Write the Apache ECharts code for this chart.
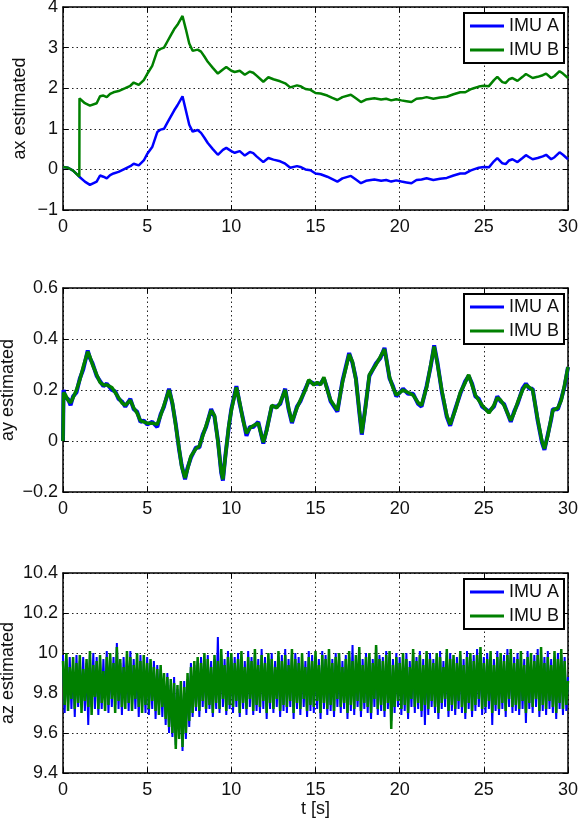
<!DOCTYPE html>
<html>
<head>
<meta charset="utf-8">
<title>IMU estimated acceleration</title>
<script src="https://cdn.jsdelivr.net/npm/echarts@6/dist/echarts.min.js"></script>
<style>
  html, body { margin: 0; padding: 0; background: #fff; }
  #chart { width: 580px; height: 821px; }
</style>
</head>
<body>
<div id="chart"></div>
<script>
// tick labels
const timeTicks = [0, 5, 10, 15, 20, 25, 30];
const axTicks = [-1, 0, 1, 2, 3, 4];
const ayTicks = [-0.2, 0, 0.2, 0.4, 0.6];
const azTicks = [9.4, 9.6, 9.8, 10, 10.2, 10.4];
const seriesNames = ["IMU A", "IMU B"];

// ax estimated
const axTime = [0, 0.3, 0.6, 0.97, 0.98, 1.3, 1.6, 2.0, 2.2, 2.4, 2.6, 2.8, 3.0, 3.3, 3.7, 4.0, 4.2, 4.5, 4.8, 5.0,
  5.3, 5.6, 5.8, 6.0, 6.2, 6.4, 6.6, 6.8, 7.1, 7.3, 7.5, 7.7, 8.0, 8.2, 8.4, 8.6, 8.9, 9.2, 9.5, 9.7,
  10.0, 10.2, 10.5, 10.8, 11.1, 11.3, 11.5, 11.9, 12.2, 12.5, 12.9, 13.2, 13.5, 13.9, 14.1, 14.4, 14.7, 15.0, 15.3, 15.7,
  16.0, 16.3, 16.6, 17.1, 17.4, 17.7, 18.0, 18.5, 18.9, 19.2, 19.5, 19.8, 20.1, 20.4, 20.7, 21.0, 21.3, 21.6, 22.0, 22.4,
  22.8, 23.2, 23.6, 23.9, 24.2, 24.4, 24.7, 25.0, 25.3, 25.6, 25.8, 26.1, 26.3, 26.5, 26.7, 27.0, 27.3, 27.5, 27.7, 27.9,
  28.2, 28.5, 28.7, 29.0, 29.2, 29.5, 29.7, 30.0];
const axImuA = [0.06, 0.04, -0.03, -0.18, -0.19, -0.3, -0.38, -0.3, -0.15, -0.18, -0.22, -0.14, -0.1, -0.06, 0.02, 0.08, 0.14, 0.1, 0.22, 0.38,
  0.55, 0.92, 0.98, 1.0, 1.15, 1.3, 1.45, 1.58, 1.8, 1.45, 1.1, 0.93, 0.97, 0.9, 0.78, 0.65, 0.5, 0.36, 0.48, 0.53,
  0.45, 0.41, 0.45, 0.34, 0.43, 0.4, 0.32, 0.18, 0.28, 0.24, 0.2, 0.14, 0.04, 0.08, 0.06, 0.0, -0.02, -0.1, -0.12, -0.18,
  -0.24, -0.3, -0.22, -0.16, -0.25, -0.34, -0.28, -0.25, -0.28, -0.26, -0.3, -0.27, -0.3, -0.32, -0.34, -0.26, -0.25, -0.22, -0.26, -0.23,
  -0.21, -0.15, -0.1, -0.1, -0.03, 0.0, 0.04, 0.06, 0.05, 0.2, 0.28, 0.15, 0.13, 0.22, 0.25, 0.18, 0.28, 0.35, 0.3, 0.25,
  0.28, 0.32, 0.36, 0.25, 0.3, 0.42, 0.36, 0.25];
const axImuB = [0.06, 0.04, -0.03, -0.18, 1.75, 1.63, 1.57, 1.63, 1.8, 1.82, 1.78, 1.86, 1.9, 1.93, 2.0, 2.06, 2.14, 2.08, 2.2, 2.35,
  2.55, 2.92, 2.97, 3.0, 3.15, 3.3, 3.45, 3.56, 3.78, 3.45, 3.1, 2.92, 2.95, 2.9, 2.78, 2.65, 2.5, 2.36, 2.46, 2.52,
  2.43, 2.4, 2.43, 2.33, 2.41, 2.38, 2.31, 2.16, 2.27, 2.22, 2.17, 2.12, 2.02, 2.07, 2.05, 1.98, 1.96, 1.88, 1.87, 1.82,
  1.76, 1.71, 1.78, 1.84, 1.75, 1.66, 1.72, 1.75, 1.72, 1.74, 1.7, 1.73, 1.7, 1.68, 1.66, 1.74, 1.75, 1.78, 1.74, 1.77,
  1.79, 1.85, 1.9, 1.9, 1.97, 2.0, 2.04, 2.06, 2.05, 2.2, 2.28, 2.15, 2.13, 2.22, 2.25, 2.18, 2.28, 2.35, 2.3, 2.25,
  2.28, 2.32, 2.36, 2.25, 2.3, 2.42, 2.36, 2.25];

// ay estimated
const ayTime = [0, 0.03, 0.15, 0.3, 0.45, 0.6, 0.8, 1.0, 1.2, 1.47, 1.6, 1.75, 2.0, 2.2, 2.4, 2.6, 2.9, 3.1, 3.3, 3.5,
  3.7, 4.0, 4.2, 4.4, 4.6, 4.8, 5.0, 5.3, 5.6, 5.8, 6.0, 6.3, 6.5, 6.7, 6.9, 7.05, 7.25, 7.4, 7.6, 7.9,
  8.1, 8.3, 8.5, 8.8, 9.0, 9.2, 9.4, 9.5, 9.65, 9.85, 10.0, 10.3, 10.5, 10.7, 10.9, 11.1, 11.3, 11.6, 11.9, 12.1,
  12.4, 12.7, 12.9, 13.2, 13.4, 13.6, 13.9, 14.1, 14.4, 14.6, 14.9, 15.1, 15.3, 15.5, 15.7, 15.9, 16.3, 16.6, 17.0, 17.2,
  17.4, 17.6, 17.75, 17.95, 18.2, 18.6, 18.85, 19.1, 19.4, 19.6, 19.8, 20.2, 20.5, 20.8, 21.1, 21.3, 21.6, 21.85, 22.05, 22.25,
  22.5, 22.8, 23.0, 23.3, 23.6, 23.9, 24.1, 24.3, 24.5, 24.7, 24.9, 25.3, 25.6, 25.8, 26.0, 26.2, 26.6, 26.8, 27.0, 27.3,
  27.5, 27.7, 27.9, 28.2, 28.45, 28.6, 28.8, 29.0, 29.1, 29.4, 29.6, 29.8, 30.0];
const ayImuA = [0.0, 0.2, 0.17, 0.165, 0.14, 0.175, 0.19, 0.245, 0.28, 0.355, 0.325, 0.305, 0.255, 0.235, 0.215, 0.225, 0.2, 0.195, 0.165, 0.155,
  0.135, 0.165, 0.125, 0.115, 0.075, 0.08, 0.065, 0.075, 0.055, 0.105, 0.135, 0.205, 0.145, 0.065, -0.035, -0.095, -0.15, -0.105, -0.065, -0.025,
  -0.025, 0.025, 0.055, 0.125, 0.095, 0.005, -0.125, -0.155, -0.055, 0.055, 0.125, 0.215, 0.145, 0.085, 0.02, 0.055, 0.055, 0.075, -0.01, 0.045,
  0.135, 0.135, 0.145, 0.205, 0.125, 0.07, 0.135, 0.155, 0.205, 0.235, 0.225, 0.225, 0.225, 0.245, 0.205, 0.155, 0.115, 0.235, 0.345, 0.305,
  0.245, 0.115, 0.025, 0.125, 0.255, 0.305, 0.325, 0.365, 0.245, 0.215, 0.175, 0.205, 0.185, 0.185, 0.145, 0.135, 0.215, 0.295, 0.375, 0.305,
  0.195, 0.095, 0.06, 0.125, 0.185, 0.235, 0.255, 0.225, 0.175, 0.165, 0.135, 0.115, 0.135, 0.175, 0.155, 0.145, 0.075, 0.115, 0.145, 0.205,
  0.225, 0.205, 0.205, 0.08, -0.005, -0.035, 0.025, 0.085, 0.125, 0.125, 0.165, 0.215, 0.29];
const ayImuB = [0.0, 0.19, 0.18, 0.16, 0.15, 0.17, 0.2, 0.24, 0.29, 0.35, 0.33, 0.3, 0.26, 0.23, 0.22, 0.22, 0.21, 0.19, 0.17, 0.15,
  0.14, 0.16, 0.13, 0.11, 0.08, 0.075, 0.07, 0.07, 0.065, 0.1, 0.14, 0.2, 0.15, 0.06, -0.03, -0.1, -0.145, -0.11, -0.06, -0.03,
  -0.02, 0.02, 0.06, 0.12, 0.1, 0.0, -0.12, -0.15, -0.06, 0.06, 0.12, 0.21, 0.15, 0.08, 0.03, 0.05, 0.06, 0.07, -0.005, 0.04,
  0.14, 0.13, 0.15, 0.2, 0.13, 0.075, 0.13, 0.16, 0.2, 0.24, 0.22, 0.23, 0.22, 0.25, 0.2, 0.16, 0.12, 0.23, 0.34, 0.31,
  0.24, 0.12, 0.03, 0.12, 0.26, 0.3, 0.33, 0.36, 0.25, 0.21, 0.18, 0.2, 0.19, 0.18, 0.15, 0.14, 0.21, 0.3, 0.37, 0.3,
  0.2, 0.1, 0.065, 0.12, 0.19, 0.23, 0.26, 0.22, 0.18, 0.16, 0.14, 0.11, 0.14, 0.17, 0.16, 0.14, 0.08, 0.11, 0.15, 0.2,
  0.22, 0.21, 0.2, 0.085, 0.0, -0.03, 0.02, 0.09, 0.12, 0.13, 0.16, 0.22, 0.29];

// az estimated, one sample every azStep seconds from t = 0 (one row = 1 s)
const azStep = 0.1;
const azImuA = [
  9.99, 9.70, 9.97, 9.74, 9.98, 9.72, 9.95, 9.68, 9.99, 9.73,
  9.96, 9.74, 9.98, 9.71, 9.95, 9.64, 9.99, 9.73, 10.00, 9.72,
  9.98, 9.69, 9.96, 9.72, 9.97, 9.74, 10.01, 9.70, 9.97, 9.73,
  9.98, 9.74, 10.05, 9.72, 9.95, 9.69, 9.98, 9.75, 9.97, 9.71,
  10.01, 9.74, 9.97, 9.72, 9.96, 9.68, 9.99, 9.73, 9.96, 9.70,
  9.98, 9.69, 9.95, 9.72, 9.96, 9.67, 9.94, 9.71, 9.92, 9.68,
  9.87, 9.64, 9.90, 9.60, 9.84, 9.58, 9.88, 9.54, 9.82, 9.59,
  9.84, 9.51, 9.86, 9.57, 9.87, 9.63, 9.95, 9.68, 9.94, 9.71,
  9.96, 9.68, 9.98, 9.73, 9.97, 9.70, 9.99, 9.72, 9.96, 9.68,
  9.97, 9.72, 10.08, 9.70, 9.99, 9.73, 9.97, 9.69, 10.01, 9.72,
  9.97, 9.70, 9.98, 9.73, 10.00, 9.68, 9.98, 9.72, 9.96, 9.69,
  10.01, 9.73, 9.98, 9.69, 9.99, 9.71, 9.97, 9.70, 10.02, 9.72,
  9.98, 9.67, 9.97, 9.72, 10.00, 9.70, 9.96, 9.73, 9.98, 9.68,
  9.99, 9.71, 10.02, 9.70, 9.97, 9.73, 9.99, 9.67, 10.00, 9.72,
  9.98, 9.69, 9.97, 9.73, 9.96, 9.68, 10.01, 9.71, 9.99, 9.70,
  9.98, 9.72, 9.97, 9.67, 10.01, 9.72, 9.99, 9.69, 9.98, 9.71,
  9.97, 9.68, 10.00, 9.73, 9.98, 9.70, 9.96, 9.72, 9.99, 9.67,
  9.98, 9.71, 10.04, 9.69, 9.97, 9.73, 10.00, 9.68, 9.97, 9.72,
  10.00, 9.70, 9.98, 9.67, 9.97, 9.73, 10.03, 9.69, 9.99, 9.71,
  9.98, 9.68, 10.01, 9.72, 9.98, 9.66, 9.97, 9.70, 10.00, 9.73,
  9.98, 9.69, 9.97, 9.71, 10.00, 9.67, 9.96, 9.73, 9.99, 9.70,
  9.98, 9.72, 10.01, 9.68, 9.97, 9.64, 9.99, 9.69, 10.00, 9.73,
  9.97, 9.70, 9.98, 9.67, 10.01, 9.72, 9.96, 9.73, 9.99, 9.68,
  10.00, 9.71, 9.97, 9.69, 9.98, 9.72, 9.99, 9.70, 9.97, 9.67,
  10.01, 9.72, 9.97, 9.68, 9.99, 9.71, 10.02, 9.73, 9.99, 9.69,
  9.98, 9.70, 10.00, 9.72, 9.98, 9.64, 9.97, 9.71, 10.01, 9.69,
  9.97, 9.72, 9.99, 9.68, 10.02, 9.73, 9.99, 9.70, 9.98, 9.71,
  10.00, 9.69, 9.98, 9.72, 9.97, 9.65, 10.01, 9.72, 9.97, 9.70,
  9.99, 9.73, 10.02, 9.68, 9.99, 9.71, 9.98, 9.69, 10.01, 9.72,
  9.97, 9.70, 9.98, 9.67, 10.00, 9.72, 9.99, 9.69, 9.98, 9.71,
  9.88];
const azImuB = [
  9.96, 9.74, 10.00, 9.71, 9.93, 9.77, 9.98, 9.72, 9.95, 9.75,
  9.99, 9.70, 9.92, 9.76, 9.97, 9.73, 10.01, 9.69, 9.94, 9.78,
  9.96, 9.72, 9.99, 9.75, 9.91, 9.71, 9.98, 9.74, 10.00, 9.77,
  9.95, 9.70, 10.03, 9.76, 9.97, 9.73, 9.93, 9.72, 10.01, 9.75,
  9.98, 9.71, 9.94, 9.77, 10.00, 9.73, 9.96, 9.70, 9.99, 9.74,
  9.95, 9.72, 9.97, 9.76, 9.93, 9.71, 9.92, 9.69, 9.94, 9.73,
  9.90, 9.67, 9.88, 9.63, 9.87, 9.60, 9.85, 9.52, 9.84, 9.57,
  9.86, 9.53, 9.83, 9.60, 9.90, 9.66, 9.93, 9.70, 9.96, 9.73,
  9.98, 9.71, 9.95, 9.76, 10.00, 9.72, 9.97, 9.74, 9.93, 9.70,
  9.99, 9.75, 9.96, 9.72, 10.02, 9.77, 9.94, 9.71, 9.98, 9.74,
  10.00, 9.73, 9.95, 9.76, 9.97, 9.70, 10.01, 9.75, 9.93, 9.72,
  9.98, 9.77, 9.96, 9.71, 10.02, 9.74, 9.94, 9.73, 9.99, 9.76,
  9.95, 9.70, 10.00, 9.75, 9.97, 9.72, 9.93, 9.77, 10.01, 9.71,
  9.96, 9.74, 9.99, 9.73, 9.94, 9.76, 10.02, 9.70, 9.97, 9.75,
  9.95, 9.72, 10.00, 9.77, 9.93, 9.71, 9.98, 9.74, 9.96, 9.73,
  10.01, 9.76, 9.94, 9.70, 9.99, 9.75, 9.97, 9.72, 10.02, 9.74,
  9.95, 9.71, 9.98, 9.77, 10.00, 9.73, 9.93, 9.75, 9.97, 9.70,
  10.01, 9.74, 9.96, 9.72, 9.99, 9.76, 10.03, 9.71, 9.94, 9.75,
  9.98, 9.73, 10.00, 9.70, 9.95, 9.77, 10.04, 9.72, 9.97, 9.74,
  9.96, 9.71, 9.99, 9.75, 10.01, 9.62, 9.94, 9.73, 9.98, 9.76,
  9.95, 9.72, 10.00, 9.74, 9.97, 9.70, 9.93, 9.77, 10.02, 9.73,
  9.96, 9.75, 9.99, 9.71, 9.94, 9.74, 10.01, 9.72, 9.97, 9.76,
  9.95, 9.73, 10.00, 9.70, 9.98, 9.75, 9.93, 9.77, 10.02, 9.71,
  9.97, 9.74, 9.99, 9.72, 9.95, 9.76, 10.01, 9.73, 9.94, 9.70,
  9.98, 9.75, 10.00, 9.71, 9.96, 9.74, 9.99, 9.77, 10.03, 9.72,
  9.95, 9.73, 9.97, 9.76, 10.01, 9.70, 9.94, 9.74, 9.98, 9.72,
  10.00, 9.75, 9.96, 9.71, 9.99, 9.77, 10.02, 9.73, 9.95, 9.74,
  9.97, 9.72, 10.01, 9.76, 9.94, 9.70, 9.98, 9.75, 10.00, 9.73,
  9.96, 9.77, 9.99, 9.71, 10.03, 9.74, 9.95, 9.72, 9.98, 9.76,
  9.94, 9.73, 10.01, 9.70, 9.97, 9.75, 10.02, 9.72, 9.96, 9.74,
  9.86];

const font = "'Liberation Sans', Arial, sans-serif";
const textColor = "#111";
const blue = "#0000ff";
const green = "#008000";

// 三个子图的位置
const panels = [
  { top: 7, height: 203, ticks: axTicks, name: "ax estimated", nameGap: 34 },
  { top: 288, height: 204, ticks: ayTicks, name: "ay estimated", nameGap: 46 },
  { top: 573, height: 200, ticks: azTicks, name: "az estimated", nameGap: 46 },
];

function tickLabel(v) {
  return String(Math.round(v * 100) / 100).replace("-", "\u2212");
}

const frame = { show: true, onZero: false, lineStyle: { color: "#000", width: 1.5 } };
const tick = { show: true, inside: true, length: 5, lineStyle: { color: "#000", width: 1 } };
const grid = { show: true, lineStyle: { color: "#222", width: 1, type: [1.5, 3] } };
const label = { fontFamily: font, fontSize: 18, color: textColor };

const grids = [];
const xAxes = [];
const yAxes = [];
const legends = [];
panels.forEach((p, i) => {
  grids.push({
    left: 63, right: 12, top: p.top, height: p.height,
    containLabel: false, outerBoundsMode: "none",
  });
  const xBase = {
    gridIndex: i, type: "value",
    min: timeTicks[0], max: timeTicks[timeTicks.length - 1],
    interval: timeTicks[1] - timeTicks[0],
    axisLine: frame, axisTick: tick,
  };
  xAxes.push(Object.assign({}, xBase, {
    position: "bottom",
    axisLabel: Object.assign({ margin: 8, formatter: tickLabel }, label),
    splitLine: grid,
    name: i === 2 ? "t [s]" : "",
    nameLocation: "middle", nameGap: 26,
    nameTextStyle: label,
  }));
  xAxes.push(Object.assign({}, xBase, {
    position: "top", axisLabel: { show: false }, splitLine: { show: false },
  }));
  const t = p.ticks;
  const yBase = {
    gridIndex: i, type: "value",
    min: t[0], max: t[t.length - 1],
    interval: +(t[1] - t[0]).toFixed(3),
    axisLine: frame, axisTick: tick,
  };
  yAxes.push(Object.assign({}, yBase, {
    position: "left",
    axisLabel: Object.assign({ margin: 5, formatter: tickLabel }, label),
    splitLine: grid,
    name: p.name, nameLocation: "middle", nameGap: p.nameGap,
    nameMoveOverlap: false,
    nameTextStyle: label,
  }));
  yAxes.push(Object.assign({}, yBase, {
    position: "right", axisLabel: { show: false }, splitLine: { show: false },
  }));
  legends.push({
    data: seriesNames,
    orient: "vertical",
    right: 16, top: p.top + 6,
    backgroundColor: "#fff",
    borderColor: "#000", borderWidth: 2, borderRadius: 0,
    padding: [4, 5, 4, 6],
    itemGap: 6, itemWidth: 34, itemHeight: 3,
    icon: "rect",
    textStyle: { fontFamily: font, fontSize: 18, color: textColor, padding: [0, 0, 0, 0] },
    selectedMode: false,
  });
});

function pairs(time, values) {
  return time.map((x, i) => [x, values[i]]);
}
function sampled(values) {
  return values.map((v, i) => [+(i * azStep).toFixed(2), v]);
}
function line(name, idx, data, color, width) {
  return {
    name: name, type: "line",
    xAxisIndex: idx * 2, yAxisIndex: idx * 2,
    data: data, showSymbol: false, symbol: "none",
    color: color,
    lineStyle: { color: color, width: width },
    emphasis: { disabled: true },
  };
}

const chartInstance = echarts.init(document.getElementById("chart"), null, { renderer: "canvas" });
chartInstance.setOption({
  animation: false,
  backgroundColor: "#fff",
  textStyle: { fontFamily: font },
  grid: grids,
  xAxis: xAxes,
  yAxis: yAxes,
  legend: legends,
  series: [
    line("IMU A", 0, pairs(axTime, axImuA), blue, 2.5),
    line("IMU B", 0, pairs(axTime, axImuB), green, 2.5),
    line("IMU A", 1, pairs(ayTime, ayImuA), blue, 4),
    line("IMU B", 1, pairs(ayTime, ayImuB), green, 3.5),
    line("IMU A", 2, sampled(azImuA), blue, 2),
    line("IMU B", 2, sampled(azImuB), green, 2.5),
  ],
});
</script>
</body>
</html>
